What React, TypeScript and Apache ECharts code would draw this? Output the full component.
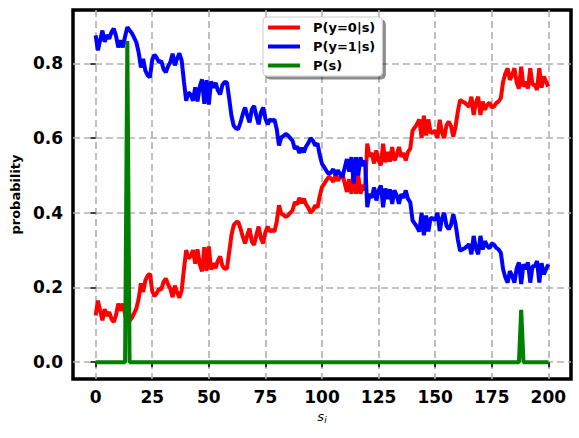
import React, { useEffect, useRef } from "react";
import * as echarts from "echarts";

const pY1: number[] = [
  0.875, 0.835, 0.862, 0.888, 0.858, 0.876, 0.866, 0.884, 0.893, 0.874,
  0.843, 0.862, 0.843, 0.872, 0.897, 0.889, 0.881, 0.869, 0.856, 0.830,
  0.789, 0.812, 0.780, 0.768, 0.763, 0.810, 0.823, 0.815, 0.803, 0.806,
  0.785, 0.776, 0.792, 0.803, 0.826, 0.795, 0.813, 0.827, 0.808, 0.752,
  0.700, 0.722, 0.716, 0.700, 0.736, 0.698, 0.738, 0.757, 0.692, 0.755,
  0.690, 0.752, 0.735, 0.748, 0.728, 0.717, 0.742, 0.750, 0.749, 0.706,
  0.660, 0.633, 0.626, 0.624, 0.642, 0.664, 0.682, 0.660, 0.642, 0.677,
  0.686, 0.660, 0.637, 0.668, 0.682, 0.652, 0.637, 0.650, 0.646, 0.650,
  0.624, 0.580, 0.602, 0.606, 0.611, 0.607, 0.600, 0.593, 0.571, 0.578,
  0.560, 0.574, 0.562, 0.578, 0.587, 0.600, 0.593, 0.580, 0.586, 0.555,
  0.531, 0.522, 0.512, 0.504, 0.508, 0.517, 0.500, 0.514, 0.504, 0.495,
  0.520, 0.544, 0.510, 0.549, 0.478, 0.549, 0.500, 0.549, 0.525, 0.540,
  0.415, 0.450, 0.440, 0.468, 0.433, 0.460, 0.473, 0.415, 0.465, 0.437,
  0.463, 0.424, 0.460, 0.447, 0.424, 0.450, 0.440, 0.460, 0.437, 0.428,
  0.380, 0.371, 0.362, 0.350, 0.400, 0.340, 0.393, 0.350, 0.386, 0.385,
  0.380, 0.400, 0.351, 0.385, 0.400, 0.365, 0.356, 0.368, 0.396, 0.370,
  0.329, 0.298, 0.302, 0.305, 0.310, 0.316, 0.289, 0.338, 0.305, 0.289,
  0.338, 0.302, 0.324, 0.311, 0.305, 0.318, 0.315, 0.306, 0.302, 0.293,
  0.249, 0.227, 0.213, 0.244, 0.231, 0.213, 0.251, 0.267, 0.209, 0.262,
  0.249, 0.267, 0.213, 0.257, 0.257, 0.271, 0.213, 0.265, 0.235, 0.249,
  0.262,
];

const pY0: number[] = [
  0.125, 0.165, 0.138, 0.112, 0.142, 0.124, 0.134, 0.116, 0.107, 0.126,
  0.157, 0.138, 0.157, 0.128, 0.103, 0.111, 0.119, 0.131, 0.144, 0.170,
  0.211, 0.188, 0.220, 0.232, 0.237, 0.190, 0.177, 0.185, 0.197, 0.194,
  0.215, 0.224, 0.208, 0.197, 0.174, 0.205, 0.187, 0.173, 0.192, 0.248,
  0.300, 0.278, 0.284, 0.300, 0.264, 0.302, 0.262, 0.243, 0.308, 0.245,
  0.310, 0.248, 0.265, 0.252, 0.272, 0.283, 0.258, 0.250, 0.251, 0.294,
  0.340, 0.367, 0.374, 0.376, 0.358, 0.336, 0.318, 0.340, 0.358, 0.323,
  0.314, 0.340, 0.363, 0.332, 0.318, 0.348, 0.363, 0.350, 0.354, 0.350,
  0.376, 0.420, 0.398, 0.394, 0.389, 0.393, 0.400, 0.407, 0.429, 0.422,
  0.440, 0.426, 0.438, 0.422, 0.413, 0.400, 0.407, 0.420, 0.414, 0.445,
  0.469, 0.478, 0.488, 0.496, 0.492, 0.483, 0.500, 0.486, 0.496, 0.505,
  0.480, 0.456, 0.490, 0.451, 0.522, 0.451, 0.500, 0.451, 0.475, 0.460,
  0.585, 0.550, 0.560, 0.532, 0.567, 0.540, 0.527, 0.585, 0.535, 0.563,
  0.537, 0.576, 0.540, 0.553, 0.576, 0.550, 0.560, 0.540, 0.563, 0.572,
  0.620, 0.629, 0.638, 0.650, 0.600, 0.660, 0.607, 0.650, 0.614, 0.615,
  0.620, 0.600, 0.649, 0.615, 0.600, 0.635, 0.644, 0.632, 0.604, 0.630,
  0.671, 0.702, 0.698, 0.695, 0.690, 0.684, 0.711, 0.662, 0.695, 0.711,
  0.662, 0.698, 0.676, 0.689, 0.695, 0.682, 0.685, 0.694, 0.698, 0.707,
  0.751, 0.773, 0.787, 0.756, 0.769, 0.787, 0.749, 0.733, 0.791, 0.738,
  0.751, 0.733, 0.787, 0.743, 0.743, 0.729, 0.787, 0.735, 0.765, 0.751,
  0.738,
];

// P(s): zero everywhere except two spikes
const pSSpikeIdx: number[] = [14, 188];
const pSSpikeVal: number[] = [0.86, 0.14];

const xTickValues: number[] = [0, 25, 50, 75, 100, 125, 150, 175, 200];
const yTickValues: number[] = [0, 0.2, 0.4, 0.6, 0.8];

const seriesNames: string[] = ["P(y=0|s)", "P(y=1|s)", "P(s)"];
const seriesColors: string[] = ["#ff0000", "#0000ff", "#008000"];

export default function App() {
  const ref = useRef<HTMLDivElement>(null);

  useEffect(() => {
    if (!ref.current) return;
    const chart = echarts.init(ref.current, undefined, { renderer: "svg" });

    const red = pY0.map((v, i) => [i, v]);
    const blue = pY1.map((v, i) => [i, v]);
    const green = pY0.map((_, i) => {
      const k = pSSpikeIdx.indexOf(i);
      return [i, k >= 0 ? pSSpikeVal[k] : 0];
    });

    const font = "DejaVu Sans";
    const gridLine = { show: true, lineStyle: { color: "#b0b0b0", width: 1.6, type: [7, 4] as any } };

    chart.setOption({
      animation: false,
      backgroundColor: "#ffffff",
      grid: {
        left: 73,
        right: 8,
        top: 10,
        bottom: 59,
        show: true,
        borderColor: "#000000",
        borderWidth: 3.5,
        backgroundColor: "transparent",
      },
      legend: {
        orient: "vertical",
        left: 263,
        top: 17,
        data: seriesNames,
        icon: "rect",
        itemWidth: 32,
        itemHeight: 4,
        itemGap: 6,
        padding: [4, 7, 4, 5],
        backgroundColor: "#ffffff",
        borderColor: "#cccccc",
        borderWidth: 1,
        borderRadius: 4,
        shadowColor: "rgba(0,0,0,0.45)",
        shadowBlur: 1,
        shadowOffsetX: 3,
        shadowOffsetY: 3,
        textStyle: {
          fontFamily: font,
          fontWeight: "bold",
          fontSize: 13,
          color: "#000",
          padding: [0, 0, 0, 8],
        },
      },
      xAxis: {
        type: "value",
        min: -10,
        max: 210,
        name: "{a|s}{b|i}",
        nameLocation: "middle",
        nameGap: 30,
        nameTextStyle: {
          rich: {
            a: { fontFamily: font, fontStyle: "italic", fontSize: 13, color: "#000" },
            b: { fontFamily: font, fontStyle: "italic", fontSize: 9, color: "#000", verticalAlign: "bottom", padding: [6, 0, 0, 0] },
          },
        },
        axisLine: { show: false },
        axisTick: { show: true, length: 5, customValues: xTickValues, lineStyle: { color: "#000", width: 1.5 } },
        axisLabel: {
          customValues: xTickValues,
          margin: 9,
          fontFamily: font,
          fontWeight: "bold",
          fontSize: 17,
          color: "#000",
        },
        splitLine: gridLine,
      },
      yAxis: {
        type: "value",
        min: -0.045,
        max: 0.943,
        name: "probability",
        nameLocation: "middle",
        nameGap: 50,
        nameTextStyle: { fontFamily: font, fontWeight: "bold", fontSize: 13, color: "#000" },
        axisLine: { show: false },
        axisTick: { show: true, length: 5, customValues: yTickValues, lineStyle: { color: "#000", width: 1.5 } },
        axisLabel: {
          customValues: yTickValues,
          margin: 10,
          fontFamily: font,
          fontWeight: "bold",
          fontSize: 17,
          color: "#000",
          formatter: (v: number) => v.toFixed(1),
        },
        splitLine: gridLine,
      },
      series: [
        { name: seriesNames[0], type: "line", data: red, showSymbol: false, symbol: "none", lineStyle: { color: seriesColors[0], width: 4 }, itemStyle: { color: seriesColors[0] } },
        { name: seriesNames[1], type: "line", data: blue, showSymbol: false, symbol: "none", lineStyle: { color: seriesColors[1], width: 4 }, itemStyle: { color: seriesColors[1] } },
        { name: seriesNames[2], type: "line", data: green, showSymbol: false, symbol: "none", lineStyle: { color: seriesColors[2], width: 4 }, itemStyle: { color: seriesColors[2] } },
      ],
    });

    return () => chart.dispose();
  }, []);

  return (
    <div
      ref={ref}
      style={{ position: "fixed", left: 0, top: 0, width: 579, height: 438, background: "#fff" }}
    />
  );
}
